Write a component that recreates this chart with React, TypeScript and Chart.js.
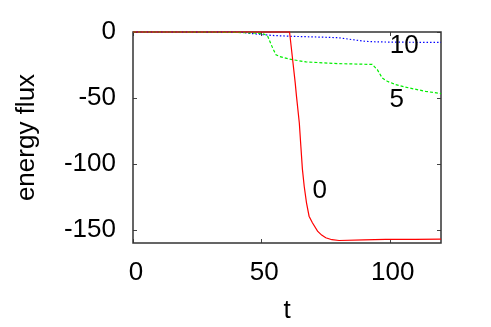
import React, { useEffect, useRef } from "react";
import { Chart, registerables } from "chart.js";

Chart.register(...registerables);

// series "0" (red, solid)
const redT = [0, 20, 40, 55, 61, 62.2, 63.2, 63.7, 64.8, 65.4, 66.0, 66.7, 67.6, 68.6, 69.9, 71.9, 73.5, 75.1, 77.5, 80.3, 90, 98.4, 110, 120];
const redV = [0, 0, 0, 0, 0, -21, -38.6, -48.8, -69, -86.6, -104, -117, -129.5, -139.7, -144.7, -151, -154, -156, -157.5, -158.1, -157.7, -157.3, -157.2, -157.1];

// series "5" (green, dashed)
const greenT = [0, 20, 40, 48, 51, 52.5, 54.4, 55.7, 57, 60.9, 62.2, 67.4, 80.3, 93.2, 95.2, 97.1, 99.1, 102.3, 107.5, 114, 120];
const greenV = [0, 0, -0.3, -0.8, -1.5, -3.3, -12.1, -17.2, -18.5, -20.5, -21, -22.7, -24, -24.6, -28.6, -34.9, -37.4, -39.9, -42.4, -45, -46.7];

// series "10" (blue, dotted)
const blueT = [0, 20, 40, 43, 46, 50.5, 55, 62.2, 70, 80, 85.5, 88, 90.7, 94, 98.4, 110, 120];
const blueV = [0, 0, -0.1, -0.4, -1.1, -2.0, -2.7, -3.3, -3.7, -4.3, -5.8, -6.5, -7.1, -7.4, -7.6, -7.8, -7.8];

const xTicks = [0, 50, 100];
const yTicks = [-150, -100, -50, 0];

const curveLabels = ["0", "5", "10"];
const labelT = [72.8, 102.8, 105.7];
const labelV = [-120.8, -51.3, -10.4];

const FONT = "'Liberation Sans', Arial, Helvetica, sans-serif";
const FS = 26;

const toPts = (t: number[], v: number[]) => t.map((x, i) => ({ x, y: v[i] }));

const framePlugin = {
  id: "frame",
  beforeDatasetsDraw(chart: any) {
    const { ctx, chartArea: a, scales } = chart;
    ctx.save();
    ctx.strokeStyle = "#444";
    ctx.lineWidth = 1;
    ctx.beginPath();
    for (const v of xTicks) {
      const px = Math.round(scales.x.getPixelForValue(v)) + 0.5;
      ctx.moveTo(px, a.bottom);
      ctx.lineTo(px, a.bottom - 4);
      ctx.moveTo(px, a.top);
      ctx.lineTo(px, a.top + 4);
    }
    for (const v of yTicks) {
      const py = Math.round(scales.y.getPixelForValue(v)) + 0.5;
      ctx.moveTo(a.left, py);
      ctx.lineTo(a.left + 4, py);
      ctx.moveTo(a.right, py);
      ctx.lineTo(a.right - 4, py);
    }
    ctx.stroke();
    ctx.strokeStyle = "#333";
    ctx.lineWidth = 1.5;
    ctx.strokeRect(a.left, a.top, a.right - a.left, a.bottom - a.top);
    ctx.restore();
  },
  afterDatasetsDraw(chart: any) {
    const { ctx, scales } = chart;
    ctx.save();
    ctx.fillStyle = "#000";
    ctx.font = `${FS}px ${FONT}`;
    ctx.textAlign = "center";
    ctx.textBaseline = "middle";
    curveLabels.forEach((s, i) => {
      ctx.fillText(s, scales.x.getPixelForValue(labelT[i]), scales.y.getPixelForValue(labelV[i]));
    });
    ctx.restore();
  },
};

export default function App() {
  const ref = useRef<HTMLCanvasElement>(null);
  useEffect(() => {
    if (!ref.current) return;
    const chart = new Chart(ref.current, {
      type: "line",
      data: {
        datasets: [
          {
            label: "0",
            data: toPts(redT, redV),
            borderColor: "#ff0000",
            borderWidth: 1.2,
            pointRadius: 0,
            tension: 0,
            clip: false as any,
          },
          {
            label: "5",
            data: toPts(greenT, greenV),
            borderColor: "#00ee00",
            borderWidth: 1.2,
            borderDash: [3, 2],
            pointRadius: 0,
            tension: 0,
            clip: false as any,
          },
          {
            label: "10",
            data: toPts(blueT, blueV),
            borderColor: "#0000ff",
            borderWidth: 1.2,
            borderDash: [1.5, 2],
            pointRadius: 0,
            tension: 0,
            clip: false as any,
          },
        ],
      },
      options: {
        animation: false,
        responsive: false,
        layout: { padding: { left: 0, top: 32, right: 50, bottom: 0 } },
        plugins: { legend: { display: false }, tooltip: { enabled: false } },
        scales: {
          x: {
            type: "linear",
            min: 0,
            max: 120,
            grid: { display: false },
            border: { display: false },
            afterBuildTicks: (s: any) => {
              s.ticks = xTicks.map((value) => ({ value }));
            },
            afterFit: (s: any) => {
              s.height = 84;
            },
            ticks: {
              color: "#000",
              font: { family: FONT, size: FS },
              padding: 6,
              labelOffset: 3,
              maxRotation: 0,
            },
            title: {
              display: true,
              text: "t",
              color: "#000",
              font: { family: FONT, size: FS, lineHeight: 1 },
              padding: { top: 0, bottom: 3 },
            },
          },
          y: {
            type: "linear",
            min: -160,
            max: 0,
            grid: { display: false },
            border: { display: false },
            afterBuildTicks: (s: any) => {
              s.ticks = yTicks.map((value) => ({ value }));
            },
            afterFit: (s: any) => {
              s.width = 133;
            },
            ticks: {
              color: "#000",
              font: { family: FONT, size: FS },
              padding: 9,
            },
            title: {
              display: true,
              text: "energy flux",
              color: "#000",
              font: { family: FONT, size: FS, lineHeight: 1 },
              padding: { top: 14, bottom: 0 },
            },
          },
        },
      },
      plugins: [framePlugin],
    });
    return () => chart.destroy();
  }, []);
  return (
    <div style={{ position: "absolute", left: 0, top: 0, width: 491, height: 327, background: "#fff" }}>
      <canvas ref={ref} width={491} height={327} style={{ display: "block" }} />
    </div>
  );
}
